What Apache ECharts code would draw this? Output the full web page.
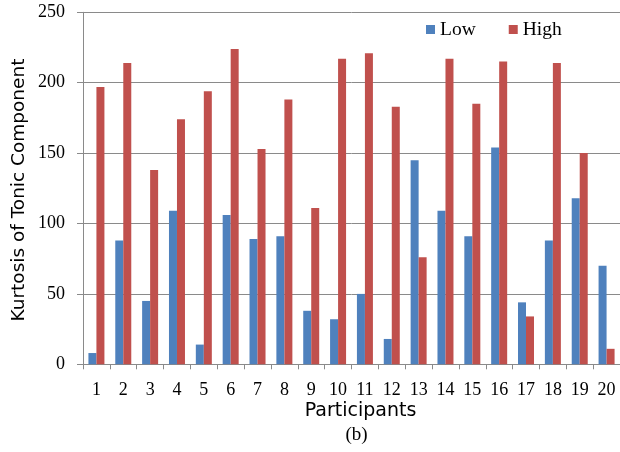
<!DOCTYPE html>
<html>
<head>
<meta charset="utf-8">
<script src="https://cdn.jsdelivr.net/npm/echarts@6/dist/echarts.min.js"></script>
<style>
html,body{margin:0;padding:0;background:#fff;}
#chart{width:620px;height:452px;}
</style>
</head>
<body>
<div id="chart"></div>
<script>
const categories = ['1','2','3','4','5','6','7','8','9','10','11','12','13','14','15','16','17','18','19','20'];
const lowValues = [8, 88, 45, 109, 14, 106, 89, 91, 38, 32, 50, 18, 145, 109, 91, 154, 44, 88, 118, 70];
const highValues = [197, 214, 138, 174, 194, 224, 153, 188, 111, 217, 221, 183, 76, 217, 185, 215, 34, 214, 150, 11];
const yTicks = [0, 50, 100, 150, 200, 250];

const chart = echarts.init(document.getElementById('chart'), null, {renderer: 'canvas'});
const gridColor = '#8a8a8a';
const serif = '"Liberation Serif", "Times New Roman", serif';
const sans = '"DejaVu Sans", sans-serif';

chart.setOption({
  animation: false,
  backgroundColor: '#ffffff',
  grid: {left: 83, top: 12.3, width: 539, height: 352, containLabel: false},
  legend: {
    data: ['Low', 'High'],
    left: 426, top: 19.5, padding: 0,
    icon: 'rect', itemWidth: 9, itemHeight: 9, itemGap: 33,
    textStyle: {fontFamily: serif, fontSize: 19.5, color: '#000'}
  },
  xAxis: {
    type: 'category',
    data: categories,
    boundaryGap: true,
    axisLine: {show: true, lineStyle: {color: gridColor, width: 1}},
    axisTick: {show: true, length: 5, alignWithLabel: false, lineStyle: {color: gridColor}},
    axisLabel: {margin: 17, fontFamily: serif, fontSize: 18, color: '#000', interval: 0},
    splitLine: {show: false}
  },
  yAxis: {
    type: 'value',
    min: yTicks[0], max: yTicks[yTicks.length - 1], interval: 50,
    axisLine: {show: true, lineStyle: {color: gridColor, width: 1}},
    axisTick: {show: true, length: 6, inside: false, lineStyle: {color: gridColor}},
    axisLabel: {margin: 18, fontFamily: serif, fontSize: 18, color: '#000'},
    splitLine: {show: true, lineStyle: {color: gridColor, width: 1}}
  },
  series: [
    {name: 'Low', type: 'bar', data: lowValues, barWidth: 8, barGap: '0%',
     itemStyle: {color: '#4F81BD'}},
    {name: 'High', type: 'bar', data: highValues, barWidth: 8, barGap: '0%',
     itemStyle: {color: '#C0504D'}}
  ],
  graphic: [
    {type: 'text', x: 19.5, y: 190, rotation: Math.PI / 2,
     style: {text: 'Kurtosis of Tonic Component', fontFamily: sans, fontSize: 18.5, fill: '#000',
             align: 'center', verticalAlign: 'middle'}},
    {type: 'text', x: 360.5, y: 411,
     style: {text: 'Participants', fontFamily: sans, fontSize: 19, fill: '#000',
             align: 'center', verticalAlign: 'middle'}},
    {type: 'text', x: 356.5, y: 435,
     style: {text: '(b)', fontFamily: serif, fontSize: 19, fill: '#000',
             align: 'center', verticalAlign: 'middle'}}
  ]
});
</script>
</body>
</html>
